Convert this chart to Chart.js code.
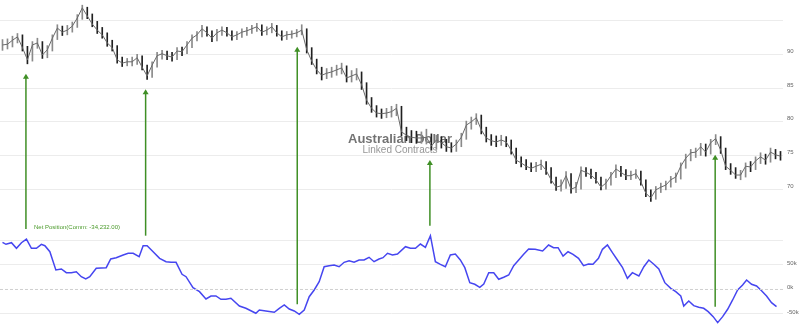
<!DOCTYPE html>
<html>
<head>
<meta charset="utf-8">
<script src="https://cdn.jsdelivr.net/npm/chart.js@4"></script>
<style>
  html, body { margin: 0; padding: 0; background: #fff; }
  #wrap { width: 800px; height: 325px; }
</style>
</head>
<body>
<div id="wrap"><canvas id="cotChart" width="800" height="325"></canvas></div>
<script>
// Weekly AUD futures range (low / high / close), one entry per week
const priceLow = [
  90.6, 90.8, 91.1, 91.7, 90.5, 88.6, 89.0, 90.9, 89.4, 89.5,
  90.5, 92.2, 92.8, 92.9, 93.3, 94.0, 95.2, 95.3, 94.1, 93.1,
  92.4, 91.2, 90.5, 88.7, 88.2, 88.3, 88.3, 88.5, 87.7, 86.3,
  86.6, 88.1, 89.3, 89.2, 89.0, 89.2, 89.8, 90.1, 91.0, 92.0,
  92.6, 92.7, 91.9, 92.0, 92.8, 92.7, 92.1, 92.2, 92.5, 92.8,
  93.1, 93.4, 92.8, 92.9, 93.2, 92.7, 92.1, 92.2, 92.4, 92.6,
  92.9, 90.2, 88.5, 87.1, 86.2, 86.4, 86.6, 86.9, 87.1, 85.9,
  85.9, 86.2, 84.8, 82.6, 81.4, 80.7, 80.5, 80.6, 80.7, 80.9,
  77.9, 77.2, 76.9, 76.8, 76.8, 76.7, 75.8, 75.9, 76.1, 75.6,
  75.5, 75.6, 76.3, 77.4, 78.9, 79.6, 78.2, 77.0, 76.5, 76.3,
  76.5, 76.3, 75.2, 73.8, 73.3, 72.9, 72.6, 72.6, 72.9, 72.2,
  70.9, 69.8, 69.7, 70.1, 69.4, 69.5, 70.0, 71.9, 71.6, 70.9,
  69.9, 70.0, 70.6, 71.7, 71.9, 71.4, 71.4, 71.6, 70.6, 68.9,
  68.2, 68.5, 69.5, 69.9, 70.3, 71.0, 71.5, 73.1, 74.2, 74.7,
  75.0, 74.9, 75.2, 76.6, 75.3, 72.9, 72.2, 71.6, 71.4, 71.8,
  72.6, 72.9, 73.8, 73.7, 74.0, 74.5, 74.3
];
const priceHigh = [
  92.2, 92.3, 92.7, 93.1, 92.9, 91.2, 91.9, 92.4, 91.9, 91.3,
  92.9, 94.4, 94.2, 94.3, 94.8, 95.9, 97.3, 97.0, 96.0, 94.9,
  94.0, 93.2, 92.1, 91.3, 89.6, 89.4, 89.6, 90.0, 89.8, 88.4,
  88.9, 90.3, 90.6, 90.5, 90.3, 91.0, 91.1, 91.9, 92.9, 93.4,
  94.3, 94.1, 93.5, 93.7, 94.1, 94.0, 93.5, 93.4, 93.8, 94.0,
  94.3, 94.6, 94.4, 94.1, 94.6, 94.3, 93.5, 93.4, 93.5, 93.7,
  94.4, 93.8, 91.0, 89.3, 88.1, 87.9, 88.1, 88.4, 88.7, 88.3,
  87.6, 87.9, 87.4, 85.8, 83.6, 82.4, 81.9, 82.0, 82.3, 82.6,
  82.3, 79.2, 78.7, 78.6, 78.5, 78.9, 78.2, 78.0, 77.8, 77.4,
  76.9, 77.3, 78.3, 80.1, 80.7, 81.2, 81.0, 79.2, 78.1, 77.9,
  78.0, 77.8, 77.3, 76.1, 74.8, 74.4, 73.9, 74.0, 74.3, 74.1,
  73.2, 71.8, 71.4, 72.6, 72.3, 71.0, 73.3, 73.2, 73.0, 72.5,
  71.8, 71.5, 72.5, 73.6, 73.4, 72.9, 72.7, 72.9, 72.7, 71.4,
  69.9, 70.4, 70.9, 71.2, 71.9, 72.4, 73.9, 75.2, 75.9, 76.1,
  76.8, 76.7, 77.4, 78.1, 77.8, 76.1, 73.8, 73.2, 72.8, 73.9,
  74.1, 74.8, 75.4, 75.2, 76.1, 75.9, 75.6
];
const priceClose = [
  91.4, 91.5, 92.1, 92.6, 91.0, 89.2, 91.4, 91.7, 89.9, 90.7,
  92.4, 93.9, 93.3, 93.6, 94.2, 95.4, 96.9, 95.7, 94.5, 93.6,
  92.9, 91.7, 91.0, 89.2, 88.7, 88.9, 88.9, 89.5, 88.1, 86.8,
  88.4, 89.8, 90.1, 89.8, 89.6, 90.5, 90.4, 91.4, 92.4, 92.9,
  93.8, 93.2, 92.4, 93.2, 93.6, 93.2, 92.6, 92.9, 93.3, 93.5,
  93.8, 94.1, 93.3, 93.6, 94.1, 93.2, 92.6, 92.9, 93.0, 93.2,
  93.6, 90.7, 89.0, 87.7, 86.9, 87.2, 87.4, 87.7, 88.0, 86.5,
  86.8, 87.1, 85.5, 83.2, 82.0, 81.3, 81.2, 81.3, 81.5, 82.0,
  78.5, 78.0, 77.7, 77.6, 77.6, 77.7, 76.4, 77.3, 76.9, 76.3,
  76.1, 76.7, 77.7, 79.5, 80.0, 80.6, 78.8, 77.6, 77.2, 77.0,
  77.3, 77.0, 75.8, 74.3, 73.9, 73.4, 73.1, 73.4, 73.7, 72.8,
  71.4, 70.3, 70.5, 72.0, 70.0, 70.3, 72.8, 72.5, 72.1, 71.4,
  70.3, 70.9, 72.0, 73.0, 72.5, 72.0, 72.0, 72.3, 71.1, 69.4,
  68.7, 69.9, 70.3, 70.6, 71.4, 71.8, 73.4, 74.6, 75.4, 75.5,
  76.3, 75.5, 76.9, 77.5, 75.8, 73.4, 72.8, 72.1, 72.1, 73.4,
  73.3, 74.2, 74.8, 74.3, 75.5, 75.1, 74.9
];

// Commercials net position (thousands of contracts), week offsets on the same time axis
const netWeeks = [
  0.0, 0.7, 1.8, 2.8, 3.8, 4.8, 5.8, 6.8, 7.8, 8.5,
  9.5, 10.7, 11.8, 12.8, 13.8, 14.8, 15.8, 16.7, 17.5, 18.8,
  20.8, 21.7, 22.8, 24.2, 25.2, 26.2, 27.4, 28.2, 29.0, 30.2,
  31.5, 32.8, 33.8, 34.8, 36.0, 36.8, 38.2, 39.5, 40.8, 41.8,
  42.8, 43.8, 44.8, 45.8, 47.5, 48.8, 50.8, 51.5, 52.8, 54.5,
  55.5, 56.5, 57.5, 58.5, 59.5, 60.5, 61.5, 62.5, 63.5, 64.5,
  65.5, 66.5, 67.5, 68.5, 69.5, 70.5, 71.5, 72.5, 73.5, 74.5,
  75.5, 76.3, 77.2, 78.2, 79.2, 80.8, 81.8, 82.8, 83.8, 84.8,
  85.8, 86.8, 87.8, 88.8, 89.8, 90.8, 91.8, 92.7, 93.7, 94.7,
  95.7, 96.5, 97.5, 98.5, 99.5, 100.5, 101.5, 102.5, 103.5, 104.5,
  105.5, 106.8, 108.3, 109.5, 110.5, 111.4, 112.4, 113.4, 114.4, 115.5,
  116.5, 117.5, 118.4, 119.5, 120.3, 121.3, 122.3, 123.3, 124.3, 125.3,
  126.3, 127.6, 128.6, 129.6, 130.6, 131.6, 132.8, 134.0, 135.0, 136.0,
  136.6, 137.6, 138.6, 139.6, 140.6, 141.5, 142.5, 143.4, 144.4, 145.4,
  146.4, 147.4, 148.4, 149.2, 150.2, 151.2, 152.2, 153.2, 154.2, 155.2
];
const netValues = [
  96.3, 92.2, 95.5, 84.0, 95.5, 103.0, 84.0, 84.0, 92.2, 89.4,
  77.1, 39.8, 41.8, 34.3, 34.3, 36.3, 26.1, 21.4, 26.1, 43.2,
  44.5, 62.2, 64.9, 70.4, 73.8, 73.8, 66.9, 89.4, 89.4, 77.1,
  63.6, 56.7, 55.5, 55.5, 31.0, 26.1, 3.7, -4.5, -19.4, -13.3,
  -13.3, -20.0, -20.0, -18.0, -33.7, -38.4, -48.6, -41.8, -43.9, -46.5,
  -38.4, -31.6, -39.8, -43.9, -50.6, -41.8, -14.7, -1.0, 15.9, 46.5,
  48.6, 50.0, 46.5, 55.5, 58.8, 55.5, 60.2, 60.2, 65.7, 56.7,
  62.2, 64.9, 73.8, 70.4, 72.4, 87.3, 84.0, 84.0, 92.8, 86.1,
  109.8, 56.7, 51.4, 46.5, 70.4, 72.4, 60.2, 44.5, 13.9, 10.6,
  4.5, 11.2, 34.3, 34.3, 20.8, 24.9, 29.6, 48.6, 60.2, 71.8,
  82.6, 82.0, 78.5, 90.8, 85.3, 85.3, 68.3, 77.1, 71.8, 63.6,
  48.6, 52.0, 51.4, 63.6, 82.0, 90.8, 75.1, 60.2, 45.3, 22.8,
  34.3, 27.5, 46.5, 60.2, 51.4, 41.8, 13.9, 2.4, -4.5, -13.3,
  -33.7, -23.5, -33.0, -36.3, -38.4, -45.3, -55.5, -67.7, -55.5, -40.4,
  -21.4, -1.0, 9.2, 19.4, 10.6, 7.1, -2.4, -13.3, -26.9, -35.1
];

// Weeks where a signal arrow is drawn
const signalWeeks = [4.7, 28.7, 59.1, 85.7, 142.9];

const priceTicks = [70, 75, 80, 85, 90, 95];
const netTicks = [-50, 0, 50, 100];

// build datasets from the arrays
const barData = priceLow.map((lo, i) => ({ x: i, y: [lo, priceHigh[i]] }));
const barColors = priceClose.map((c, i) => (i > 0 && c < priceClose[i - 1]) ? '#202020' : '#8a8a8a');
const closeLine = priceClose.map((c, i) => ({ x: i, y: c }));
const netLine = netValues.map((v, i) => ({ x: netWeeks[i], y: v }));

// watermark behind the bars
const watermark = {
    id: 'watermark',
    beforeDatasetsDraw(chart) {
        const ctx = chart.ctx;
        ctx.save();
        ctx.textAlign = 'center';
        ctx.textBaseline = 'middle';
        ctx.fillStyle = 'rgba(90,90,90,0.85)';
        ctx.font = 'bold 13px "Liberation Sans", Arial, sans-serif';
        ctx.fillText('Australian Dollar', 400, 139);
        ctx.fillStyle = 'rgba(140,140,140,0.9)';
        ctx.font = '10px "Liberation Sans", Arial, sans-serif';
        ctx.fillText('Linked Contracts', 400, 150);
        ctx.restore();
    }
};

// green arrows from the net position line up to the price bars
const signalArrows = {
    id: 'signalArrows',
    afterDatasetsDraw(chart) {
        const ctx = chart.ctx;
        const xs = chart.scales.x, yp = chart.scales.y, yn = chart.scales.y2;
        ctx.save();
        ctx.strokeStyle = '#3f8f25';
        ctx.fillStyle = '#3f8f25';
        ctx.lineWidth = 1.5;
        signalWeeks.forEach(w => {
            const x = xs.getPixelForValue(w);
            const tip = yp.getPixelForValue(priceLow[Math.round(w)]) + 10;
            // nearest net point
            let best = 0;
            netWeeks.forEach((nw, j) => { if (Math.abs(nw - w) < Math.abs(netWeeks[best] - w)) best = j; });
            const base = yn.getPixelForValue(netValues[best]) - 10;
            ctx.beginPath();
            ctx.moveTo(x, base);
            ctx.lineTo(x, tip + 4);
            ctx.stroke();
            ctx.beginPath();
            ctx.moveTo(x, tip);
            ctx.lineTo(x - 3, tip + 5);
            ctx.lineTo(x + 3, tip + 5);
            ctx.closePath();
            ctx.fill();
        });
        // label of the lower pane
        ctx.fillStyle = '#4a9a2a';
        ctx.font = '6px "Liberation Sans", Arial, sans-serif';
        ctx.textAlign = 'left';
        ctx.textBaseline = 'middle';
        ctx.fillText('Net Position(Comm: -34,232.00)', 34, 227);
        ctx.restore();
    }
};

const tickFont = { size: 6, family: '"Liberation Sans", Arial, sans-serif' };

// fixed axis width and no extra padding for the label overflow
function fitAxis(s) {
    s.width = 17;
    s.paddingTop = 0;
    s.paddingBottom = 0;
}

const ctx = document.getElementById('cotChart').getContext('2d');
const cotChart = new Chart(ctx, {
    data: {
        datasets: [
            {
                type: 'line',
                data: closeLine,
                yAxisID: 'y',
                borderColor: '#6a6a6a',
                borderWidth: 1,
                pointRadius: 0,
                tension: 0
            },
            {
                type: 'bar',
                data: barData,
                yAxisID: 'y',
                backgroundColor: barColors,
                borderWidth: 0,
                barThickness: 1,
                borderSkipped: false
            },
            {
                type: 'line',
                data: [{ x: -0.5, y: 0 }, { x: 156.5, y: 0 }],
                yAxisID: 'y2',
                borderColor: '#cfcfcf',
                borderWidth: 1,
                borderDash: [3, 2],
                pointRadius: 0
            },
            {
                type: 'line',
                data: netLine,
                yAxisID: 'y2',
                borderColor: '#4646f0',
                borderWidth: 1.5,
                pointRadius: 0,
                tension: 0
            }
        ]
    },
    options: {
        responsive: false,
        animation: false,
        events: [],
        layout: { padding: 0 },
        plugins: {
            legend: { display: false },
            tooltip: { enabled: false }
        },
        scales: {
            x: {
                type: 'linear',
                display: false,
                offset: false,
                min: -0.5,
                max: 156.5,
                grid: { offset: false }
            },
            y: {
                type: 'linear',
                position: 'right',
                stack: 'panes',
                stackWeight: 228,
                min: 64.24,
                max: 98.07,
                afterBuildTicks: s => { s.ticks = priceTicks.map(v => ({ value: v })); },
                afterFit: fitAxis,
                border: { display: false },
                grid: { color: '#ececec', drawTicks: false },
                ticks: {
                    font: tickFont,
                    color: '#666',
                    padding: 4,
                    labelOffset: -3,
                    callback: v => v === 95 ? '' : v
                }
            },
            y2: {
                type: 'linear',
                position: 'right',
                stack: 'panes',
                stackWeight: 97,
                min: -72.5,
                max: 125.5,
                afterBuildTicks: s => { s.ticks = netTicks.map(v => ({ value: v })); },
                afterFit: fitAxis,
                border: { display: false },
                grid: {
                    color: c => (c.tick && c.tick.value === 0) ? 'rgba(0,0,0,0)' : '#ececec',
                    drawTicks: false
                },
                ticks: {
                    font: tickFont,
                    color: '#666',
                    padding: 4,
                    labelOffset: -2,
                    callback: v => v === 100 ? '' : v + 'k'
                }
            }
        }
    },
    plugins: [watermark, signalArrows]
});
</script>
</body>
</html>
